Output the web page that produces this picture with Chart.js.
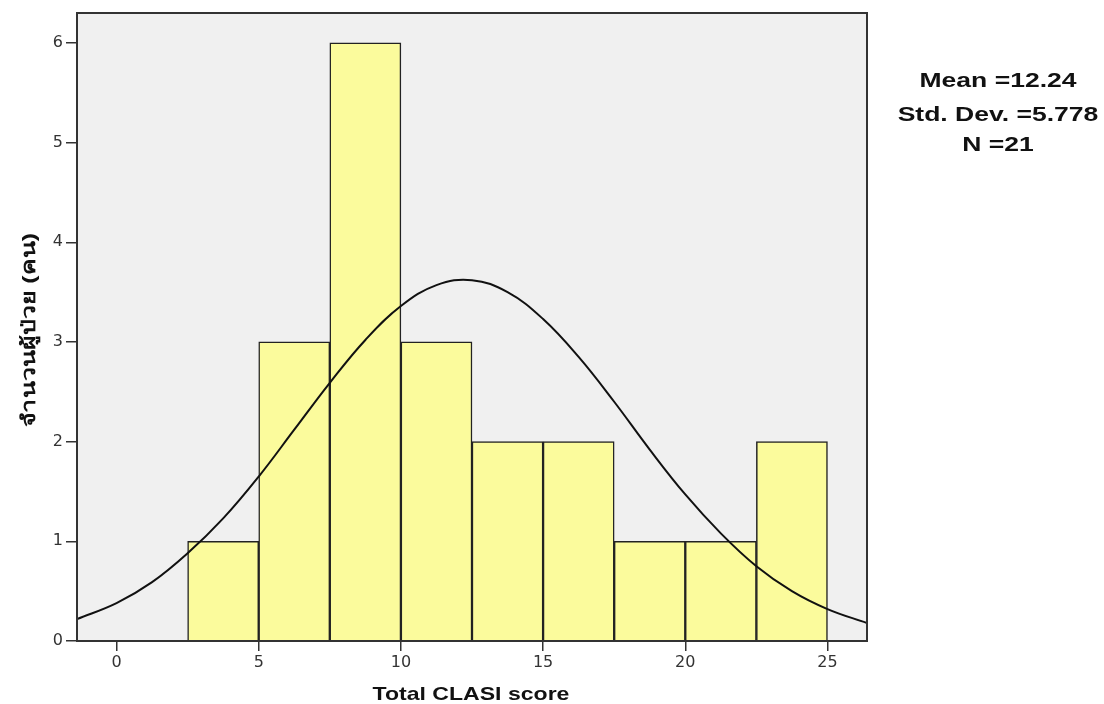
<!DOCTYPE html>
<html>
<head>
<meta charset="utf-8">
<script src="https://cdn.jsdelivr.net/npm/chart.js@4.4.1/dist/chart.umd.min.js"></script>
<style>
  html, body { margin: 0; padding: 0; background: #fff; }
  #wrap { width: 1104px; height: 704px; }
</style>
</head>
<body>
<div id="wrap"><canvas id="chart" width="1104" height="704"></canvas></div>
<script>
// histogram bins (centre of each 2.5 wide bin) and counts
const binCentres = [3.75, 6.25, 8.75, 11.25, 13.75, 16.25, 18.75, 21.25, 23.75]
const binCounts = [1, 3, 6, 3, 2, 2, 1, 1, 2]

// fitted normal curve
const curveX = [-1.39, 0, 1.25, 2.5, 3.75, 5, 6.25, 7.5, 8.75, 10, 11.25, 12.5, 13.75, 15, 16.25, 17.5, 18.75, 20, 21.25, 22.5, 23.75, 25, 26.39]
const curveY = [0.22, 0.38, 0.59, 0.88, 1.23, 1.65, 2.12, 2.59, 3.02, 3.36, 3.57, 3.62, 3.5, 3.23, 2.85, 2.4, 1.92, 1.47, 1.08, 0.75, 0.5, 0.32, 0.18]

const xTicks = [0, 5, 10, 15, 20, 25]
const yTicks = [0, 1, 2, 3, 4, 5, 6]

const xTitle = 'Total CLASI score'
const yTitle = 'จำนวนผู้ป่วย (คน)'
const statsLines = ['Mean =12.24', 'Std. Dev. =5.778', 'N =21']

const FONT = "'Liberation Sans', Arial, sans-serif"

// the original picture is stretched sideways, so the texts are drawn wider
function wideText(ctx, text, x, y, sx) {
  ctx.save()
  ctx.translate(x, y)
  ctx.scale(sx, 1)
  ctx.fillText(text, 0, 0)
  ctx.restore()
}

const frame = {
  id: 'frame',
  beforeDatasetsDraw(chart) {
    const { ctx, chartArea: a } = chart
    ctx.save()
    ctx.fillStyle = '#f0f0f0'
    ctx.fillRect(a.left, a.top, a.right - a.left, a.bottom - a.top)
    ctx.restore()
  },
  afterDatasetsDraw(chart) {
    const { ctx, chartArea: a } = chart
    ctx.save()
    ctx.strokeStyle = '#333'
    ctx.lineWidth = 2
    ctx.strokeRect(a.left, a.top, a.right - a.left, a.bottom - a.top)
    ctx.restore()
  },
  afterDraw(chart) {
    const { ctx, chartArea: a } = chart
    ctx.save()
    ctx.fillStyle = '#111'
    ctx.textAlign = 'center'
    ctx.textBaseline = 'alphabetic'

    ctx.font = 'bold 19.5px ' + FONT
    const base = [87, 121, 151]
    statsLines.forEach((t, i) => wideText(ctx, t, 998, base[i], 1.36))

    ctx.font = 'bold 18.6px ' + FONT
    wideText(ctx, xTitle, (a.left + a.right) / 2 - 1, 700, 1.24)

    // y title, rotated, stretched to the reference length
    ctx.font = 'bold 19px ' + FONT
    const w = ctx.measureText(yTitle).width
    ctx.translate(35, (a.top + a.bottom) / 2 + 3)
    ctx.rotate(-Math.PI / 2)
    ctx.scale(194 / w, 1)
    ctx.fillText(yTitle, 0, 0)
    ctx.restore()
  }
}

new Chart(document.getElementById('chart').getContext('2d'), {
  type: 'bar',
  data: {
    datasets: [
      {
        type: 'line',
        data: curveX.map((x, i) => ({ x, y: curveY[i] })),
        borderColor: '#111',
        borderWidth: 2,
        pointRadius: 0,
        tension: 0.4,
        fill: false,
        order: 0
      },
      {
        type: 'bar',
        data: binCentres.map((x, i) => ({ x, y: binCounts[i] })),
        backgroundColor: '#fbfb9c',
        borderColor: '#222',
        borderWidth: 1.5,
        barPercentage: 1,
        categoryPercentage: 1,
        order: 1
      }
    ]
  },
  options: {
    responsive: false,
    animation: false,
    layout: { padding: { left: 0, right: 237, top: 13, bottom: 0 } },
    plugins: { legend: { display: false }, tooltip: { enabled: false } },
    scales: {
      x: {
        type: 'linear',
        min: -1.39,
        max: 26.39,
        offset: false,
        afterBuildTicks: s => { s.ticks = xTicks.map(v => ({ value: v })) },
        afterFit: s => { s.height = 63 },
        grid: { offset: false, drawOnChartArea: false, drawTicks: true, tickLength: 10, color: '#333', lineWidth: 1.5 },
        border: { display: false },
        ticks: { color: '#333', font: { family: "'DejaVu Sans', sans-serif", size: 16 }, padding: 2 },
        title: { display: false }
      },
      y: {
        min: 0,
        max: 6.3,
        afterBuildTicks: s => { s.ticks = yTicks.map(v => ({ value: v })) },
        afterFit: s => { s.width = 77 },
        grid: { drawOnChartArea: false, drawTicks: true, tickLength: 11, color: '#333', lineWidth: 1.5 },
        border: { display: false },
        ticks: { color: '#333', font: { family: "'DejaVu Sans', sans-serif", size: 16 }, padding: 3 },
        title: { display: false }
      }
    }
  },
  plugins: [frame]
})
</script>
</body>
</html>
